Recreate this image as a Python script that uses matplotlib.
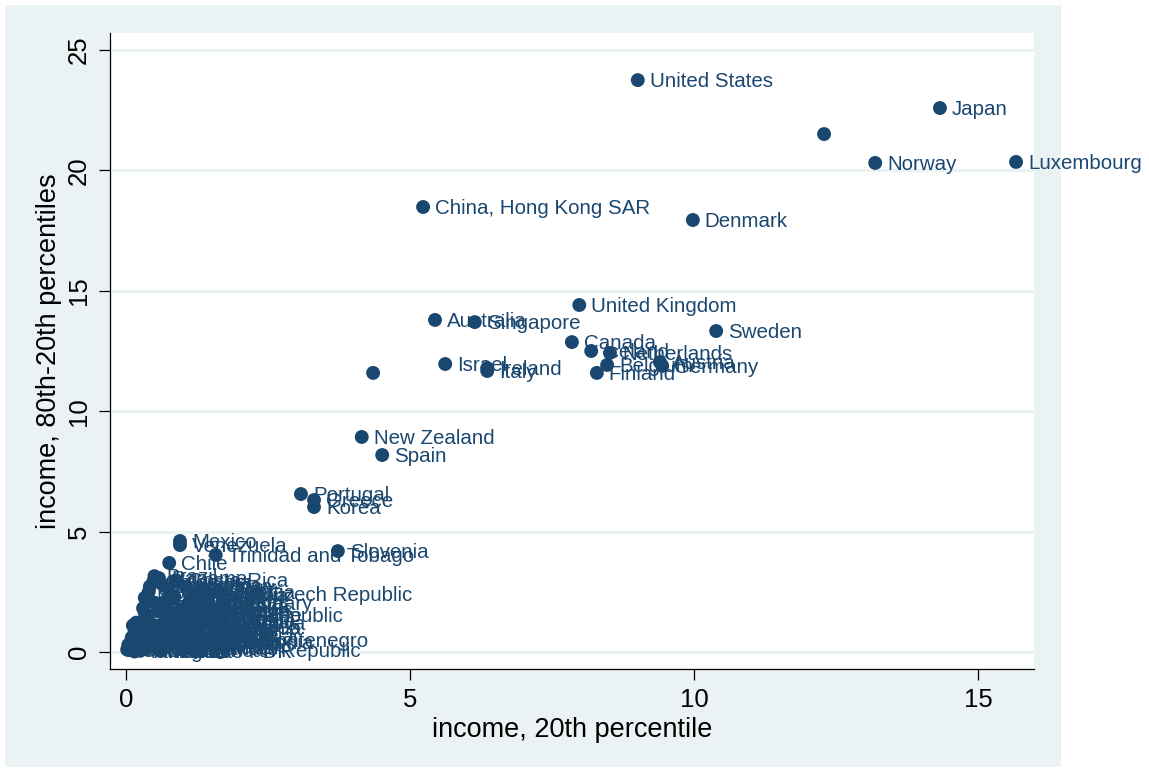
import matplotlib
matplotlib.use("Agg")
import matplotlib.pyplot as plt

plt.rcParams['font.family'] = ['Liberation Sans', 'DejaVu Sans']

# income at the 20th percentile, and the gap between 80th and 20th percentiles
countries = [
    "United States", "Japan", "", "Norway", "Luxembourg",
    "China, Hong Kong SAR", "Denmark", "United Kingdom", "Sweden",
    "Australia", "Singapore", "Canada", "Iceland", "Netherlands",
    "Belgium", "Finland", "Austria", "Germany", "Israel", "Ireland",
    "Italy", "", "New Zealand", "Spain", "Portugal", "Greece", "Korea",
    "Slovenia", "Mexico", "Venezuela", "Trinidad and Tobago", "Chile",
    # lower-income group
    "Brazil", "Panama", "Costa Rica", "Colombia", "Argentina",
    "South Africa", "Uruguay", "Malaysia", "Botswana", "Turkey",
    "Croatia", "Czech Republic", "Estonia", "Namibia", "Russia",
    "Latvia", "Poland", "Hungary", "Lithuania", "Jamaica", "Peru",
    "Bulgaria", "Lebanon", "Guatemala", "El Salvador", "Thailand",
    "Tunisia", "Romania", "Slovak Republic", "Belarus", "Kazakhstan",
    "Paraguay", "Ukraine", "Algeria", "Egypt, Arab Rep.", "Ecuador",
    "Honduras", "China", "Philippines", "Morocco", "Jordan", "Bolivia",
    "Albania", "Georgia", "Armenia", "Indonesia", "Sri Lanka", "Moldova",
    "Serbia and Montenegro", "Nicaragua", "Cote d'Ivoire", "Senegal",
    "Cameroon", "India", "Pakistan", "Vietnam", "Mongolia", "Belize",
    "Tajikistan", "Yemen, Rep.", "Central African Republic", "Ethiopia",
    "Nigeria", "Kenya", "Ghana", "Bangladesh", "Nepal", "Uganda",
    "Zambia", "Madagascar", "Tanzania", "Burundi", "Malawi", "Rwanda",
    "Niger", "Mozambique", "Haiti", "Lao PDR", "Cambodia", "Mauritania",
    "Burkina Faso",
]

income_p20 = [
    9.01, 14.33, 12.29, 13.19, 15.67,
    5.23, 9.98, 7.98, 10.39,
    5.44, 6.14, 7.85, 8.19, 8.52,
    8.47, 8.29, 9.40, 9.44, 5.62, 6.36,
    6.36, 4.35, 4.15, 4.51, 3.08, 3.31, 3.31,
    3.73, 0.95, 0.95, 1.58, 0.76,
    0.50, 0.58, 0.88, 0.48, 0.65,
    0.42, 1.05, 0.75, 0.40, 1.30,
    1.60, 2.31, 1.45, 0.33, 0.85,
    1.25, 1.45, 1.71, 1.10, 0.70, 0.50,
    1.35, 1.20, 0.30, 0.55, 0.68,
    0.95, 1.25, 1.02, 1.50, 0.80,
    0.33, 1.65, 1.15, 0.23, 0.40,
    0.18, 0.55, 0.70, 0.88, 1.05, 0.12,
    1.30, 1.50, 1.55, 0.90, 1.15, 1.60,
    0.28, 0.15, 0.35, 0.50,
    0.65, 0.80, 0.95, 1.10, 1.30, 1.50,
    0.10, 0.45, 0.05, 0.04,
    0.20, 0.35, 0.55, 0.70, 0.90, 1.10,
    1.30, 0.12, 0.15, 0.02, 0.10, 0.25,
    0.60, 0.30, 1.00, 1.25, 1.45, 0.85,
    0.40,
]

income_gap = [
    23.75, 22.59, 21.51, 20.31, 20.35,
    18.48, 17.94, 14.41, 13.33,
    13.79, 13.70, 12.87, 12.50, 12.42,
    11.92, 11.59, 12.04, 11.88, 11.96, 11.79,
    11.67, 11.59, 8.93, 8.18, 6.56, 6.31, 6.02,
    4.19, 4.61, 4.44, 4.03, 3.70,
    3.15, 3.07, 2.98, 2.92, 2.78,
    2.72, 2.70, 2.62, 2.50, 2.55,
    2.50, 2.41, 2.38, 2.25, 2.30,
    2.22, 2.08, 2.03, 2.02, 2.12, 2.05,
    1.92, 2.35, 1.82, 1.70, 1.88,
    1.75, 1.68, 1.54, 1.80, 1.60,
    1.62, 1.55, 1.92, 1.04, 1.30,
    1.22, 1.10, 1.35, 1.20, 1.38, 1.10,
    1.10, 1.28, 1.00, 0.98, 1.28, 1.20,
    0.50, 0.82, 0.88, 0.70,
    0.92, 0.60, 0.78, 0.85, 0.65, 0.70,
    0.60, 0.55, 0.08, 0.30,
    0.25, 0.15, 0.32, 0.20, 0.38, 0.15,
    0.32, 0.45, 0.02, 0.10, 0.40, 0.05,
    0.05, 0.35, 0.10, 0.05, 0.40, 0.45,
    0.40,
]

x_ticks = [0, 5, 10, 15]
y_ticks = [0, 5, 10, 15, 20, 25]

navy = "#1a476f"
panel = "#eaf2f3"

fig = plt.figure(figsize=(11.49, 7.71), dpi=100)
fig.patch.set_facecolor("white")

# shaded graph region behind the plot
bg = fig.add_axes([5 / 1149, 4 / 771, 1056 / 1149, 762 / 771], zorder=-5)
bg.set_facecolor(panel)
bg.set_xticks([])
bg.set_yticks([])
for s in bg.spines.values():
    s.set_visible(False)

ax = fig.add_axes([110 / 1149, 1 - 669 / 771, 924 / 1149, 636 / 771])
ax.set_facecolor("white")
ax.set_xlim(-0.282, 15.986)
ax.set_ylim(-0.706, 25.706)

for yv in y_ticks:
    ax.axhline(yv, color=panel, lw=2.2, zorder=1)

ax.scatter(income_p20, income_gap, s=100, color=navy, edgecolors="none",
           zorder=3)
for name, xv, yv in zip(countries, income_p20, income_gap):
    if name:
        ax.annotate(name, (xv, yv), xytext=(8.6, -1.0),
                    textcoords="offset points", va="center", ha="left",
                    fontsize=14.8, color=navy, zorder=4)

for side in ("top", "right"):
    ax.spines[side].set_visible(False)
for side in ("left", "bottom"):
    ax.spines[side].set_color("black")
    ax.spines[side].set_linewidth(0.9)

ax.set_xticks(x_ticks)
ax.set_yticks(y_ticks)
ax.tick_params(axis="both", length=8, width=0.9, color="black",
               labelsize=18.5, pad=6)
plt.setp(ax.get_yticklabels(), rotation=90, va="center")

ax.set_xlabel("income, 20th percentile", fontsize=19.5, labelpad=3)
ax.set_ylabel("income, 80th-20th percentiles", fontsize=19.5, labelpad=3)

fig.savefig("out.png", dpi=100)
